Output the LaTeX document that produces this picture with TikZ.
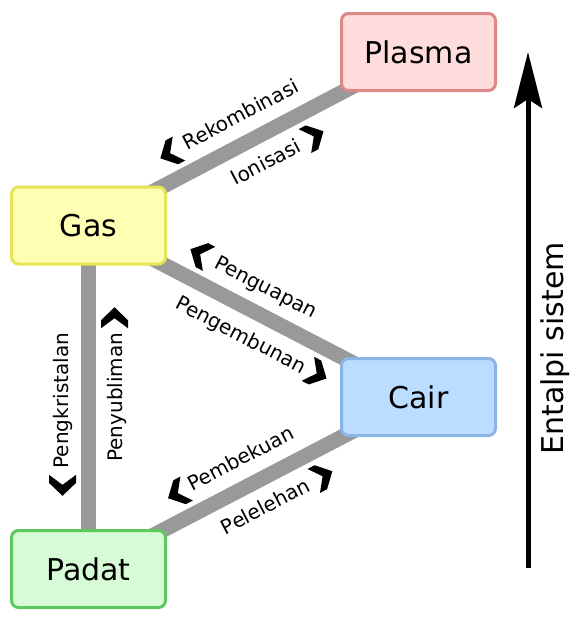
\documentclass[tikz,border=0pt]{standalone}
\usepackage{fontspec}
\setmainfont{DejaVu Sans}
\usetikzlibrary{arrows.meta}
\pgfdeclarelayer{background}
\pgfsetlayers{background,main}
\definecolor{plasmafill}{HTML}{FFDDDD}
\definecolor{plasmadraw}{HTML}{DE8787}
\definecolor{gasfill}{HTML}{FFFFB4}
\definecolor{gasdraw}{HTML}{E6E655}
\definecolor{cairfill}{HTML}{BBDDFF}
\definecolor{cairdraw}{HTML}{8AB4E3}
\definecolor{padatfill}{HTML}{D7FAD7}
\definecolor{padatdraw}{HTML}{5FC75F}
\definecolor{edgegray}{HTML}{999999}
\newcommand{\statefont}{\fontsize{30}{36}\selectfont}
\newcommand{\transfont}{\fontsize{20}{24}\selectfont}
\tikzstyle{state}=[rectangle,rounded corners=7pt,line width=3pt,minimum width=154pt,minimum height=77pt,font=\statefont]
\tikzstyle{plasma}=[fill=plasmafill,draw=plasmadraw]
\tikzstyle{gas}=[fill=gasfill,draw=gasdraw]
\tikzstyle{cair}=[fill=cairfill,draw=cairdraw]
\tikzstyle{padat}=[fill=padatfill,draw=padatdraw]
\tikzstyle{edge}=[draw=edgegray,line width=15pt]
\tikzstyle{trans}=[midway,sloped,inner sep=0pt,text height=15pt,text depth=5pt,font=\transfont]
\tikzstyle{axis}=[line width=5pt,-{Stealth[length=56pt,width=28pt,inset=9pt]}]
\tikzset{
    pics/chevfwd/.style={code={\fill[draw=none,yshift=#1] (11pt,0pt) -- (-2pt,13.5pt) -- (-10pt,13.5pt) -- (0pt,0pt) -- (-10pt,-13.5pt) -- (-2pt,-13.5pt) -- cycle;}},
    pics/chevback/.style={code={\fill[draw=none,yshift=#1,xscale=-1] (11pt,0pt) -- (-2pt,13.5pt) -- (-10pt,13.5pt) -- (0pt,0pt) -- (-10pt,-13.5pt) -- (-2pt,-13.5pt) -- cycle;}}
}

\begin{document}
\begin{tikzpicture}[x=1pt,y=-1pt]
    \useasboundingbox (0,0) rectangle (587,622);
    % The four states of matter
    \foreach \pos/\name/\txt in {{(418.5,52)/plasma/Plasma}, {(88.5,225.5)/gas/Gas}, {(418.5,397)/cair/Cair}, {(88.5,569)/padat/Padat}}
        \node[state,\name] (\name) at \pos {\txt};
    % Transitions between them, behind the boxes
    \begin{pgfonlayer}{background}
    \path[edge] (gas.center) -- (plasma.center)
        node[trans,above=8pt] (rek) {Rekombinasi}
        node[trans,below=11pt] (ion) {Ionisasi}
        pic[pos=0.284,sloped] {chevback=26}
        pic[pos=0.646,sloped] {chevfwd=-26};
    \path[edge] (gas.center) -- (cair.center)
        node[trans,above=8pt] (uap) {Penguapan}
        node[trans,below=11pt] (embun) {Pengembunan}
        pic[pos=0.302,sloped] {chevback=26}
        pic[pos=0.728,sloped] {chevfwd=-26};
    \path[edge] (padat.center) -- (cair.center)
        node[trans,above=8pt] (beku) {Pembekuan}
        node[trans,below=11pt] (leleh) {Pelelehan}
        pic[pos=0.307,sloped] {chevback=26}
        pic[pos=0.673,sloped] {chevfwd=-26};
    \path[edge] (padat.center) -- (gas.center)
        node[trans,pos=0.49,above=8pt] (kristal) {Pengkristalan}
        node[trans,below=11pt] (subli) {Penyubliman}
        pic[pos=0.245,sloped] {chevback=26}
        pic[pos=0.73,sloped] {chevfwd=-26};
    \end{pgfonlayer}
    % Enthalpy axis
    \coordinate (low) at (528,568);
    \coordinate (high) at (528,52);
    \draw[axis] (low) -- (high);
    \node[rotate=90,anchor=base,inner sep=0pt,font=\statefont] (entalpi) at (563,348.5) {Entalpi sistem};
\end{tikzpicture}
\end{document}
